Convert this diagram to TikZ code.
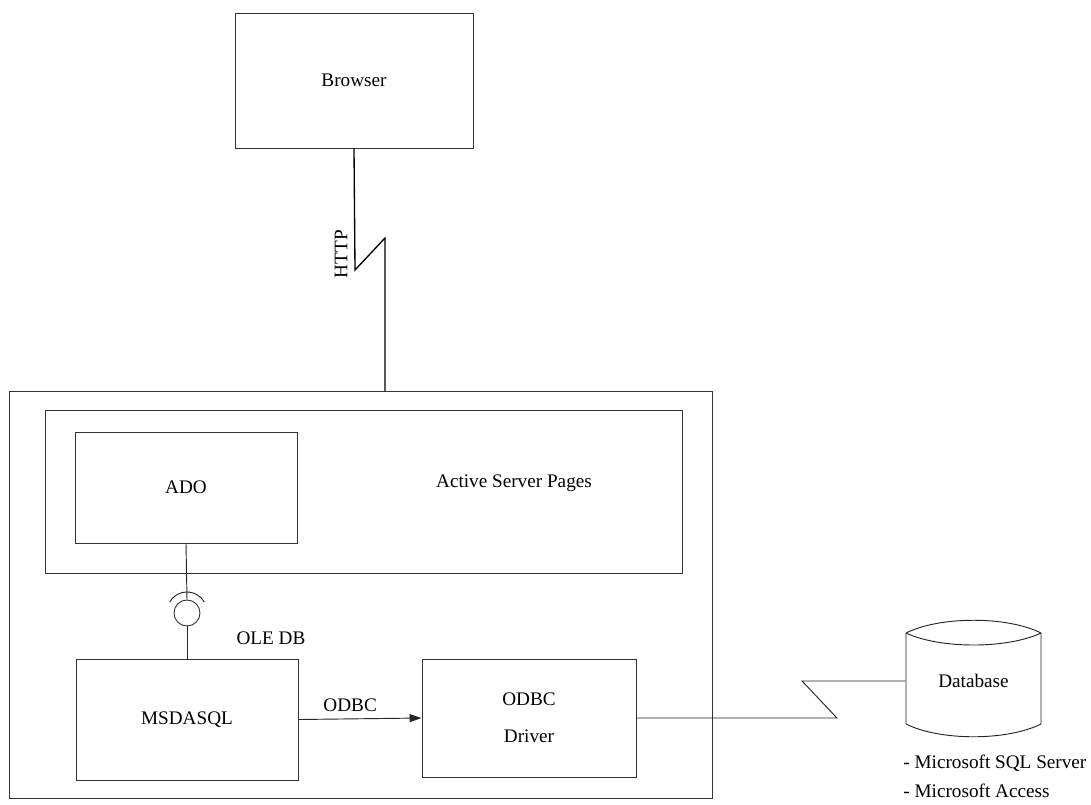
\documentclass[tikz,border=0pt]{standalone}
\usepackage{fontspec}
\setmainfont{Liberation Serif}
\usetikzlibrary{arrows.meta}
\tikzset{
  pxbox/.style 2 args={draw, rectangle, inner sep=0pt, minimum width=#1*0.75pt, minimum height=#2*0.75pt},
  txt/.style={inner sep=0.75pt},
  wire/.style={draw=black!85, line width=0.7pt},
}
\begin{document}
\begin{tikzpicture}[x=0.75pt, y=-0.75pt, font=\fontsize{14.4}{17}\selectfont, every node/.style={draw=black!80}, line width=0.7pt]
\useasboundingbox (0,0) rectangle (1091,804);
% Boxes
\node [pxbox={238}{135}] (browser) at (354,80.5) {Browser};
\node [pxbox={703}{407}] (server) at (360.5,594.5) {};
\node [pxbox={637}{163}] (asp) at (363.5,491.5) {};
\node [pxbox={222}{111}] (ado) at (186,487.5) {ADO};
\node [pxbox={222}{121}] (msdasql) at (187,719.5) {MSDASQL};
\node [pxbox={214}{118}, align=center, font=\fontsize{14.4}{27.75}\selectfont] (driver) at (529,718) {ODBC\\Driver};
% Text Node
\node [txt, draw=none] (asptext) at (514,483) {Active Server Pages};
% OLE DB socket
\node [circle, inner sep=0pt, minimum size=19.5pt] (ole) at (187,613) {};
\draw [wire] ([shift={(187,612)}]210:20) arc [start angle=210, end angle=330, radius=20];
\node [txt, draw=none] (oletext) at (271,638) {OLE DB};
% Database
\node [rectangle, draw=none, inner sep=0pt, minimum width=101.25pt, minimum height=68.25pt] (db) at (973.5,681) {Database};
\draw [wire] (906,633) .. controls (940,616) and (1007,616) .. (1041,633);
\draw [wire] (906,633) .. controls (940,649) and (1007,649) .. (1041,633);
\draw [wire] (906,633) -- (906,724) .. controls (940,741) and (1007,741) .. (1041,724) -- (1041,633);
\node [txt, draw=none, anchor=west] (sqlsrv) at (902,763) {- Microsoft SQL Server};
\node [txt, draw=none, anchor=west] (access) at (902,791) {- Microsoft Access};
% Connectors
\coordinate (httpend) at (385,391);
\draw [wire, line width=1pt, draw=black] (browser.south) -- (355,270) -- (385,238) -- (httpend);
\node [txt, draw=none, rotate=90] (http) at (341,254) {HTTP};
\draw [wire] (ado.south) -- (ole.north);
\draw [wire] (ole.south) -- (msdasql.north);
\draw [wire, -{Triangle[length=9pt, width=6pt]}] (msdasql.east) -- node [txt, draw=none, pos=0.42, above=4pt] (odbc) {ODBC} (driver.west);
\draw [wire] (driver.east) -- (837,718) -- (802,681) -- (db.west);
\end{tikzpicture}
\end{document}
